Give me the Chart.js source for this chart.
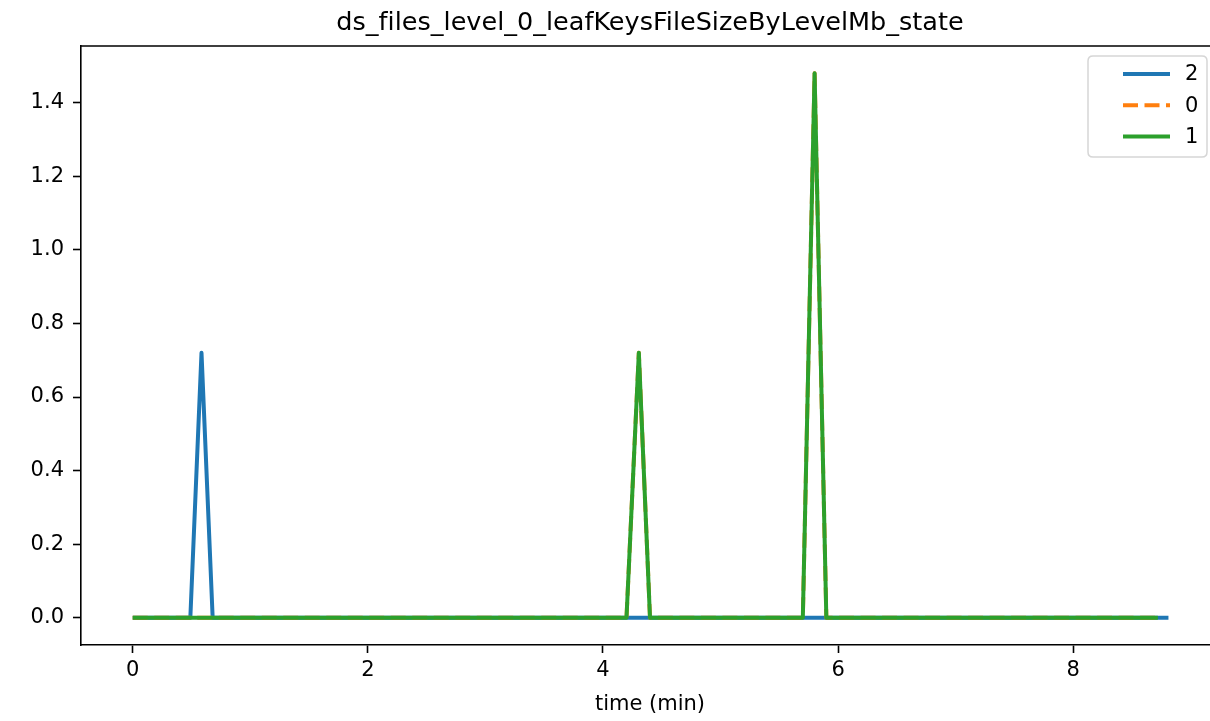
<!DOCTYPE html>
<html>
<head>
<meta charset="utf-8">
<script src="https://cdn.jsdelivr.net/npm/chart.js@4/dist/chart.umd.min.js"></script>
<style>
  html, body { margin: 0; padding: 0; overflow: hidden; background: #fff; }
  #wrap { width: 1230px; height: 721px; }
</style>
</head>
<body>
<div id="wrap"><canvas id="c" width="1230" height="721"></canvas></div>
<script>
// ---- data ----
const titleText = "ds_files_level_0_leafKeysFileSizeByLevelMb_state";
const xAxisLabel = "time (min)";
const seriesLabels = ["2", "0", "1"];
const seriesColors = ["#1f77b4", "#ff7f0e", "#2ca02c"];

const timeS2 = [0, 0.49, 0.585, 0.68, 8.81];
const valS2  = [0, 0, 0.72, 0, 0];

const timeS0 = [0, 4.2, 4.305, 4.4, 5.7, 5.8, 5.9, 8.72];
const valS0  = [0, 0, 0.72, 0, 0, 1.48, 0, 0];

const timeS1 = [0, 4.2, 4.305, 4.4, 5.7, 5.8, 5.9, 8.72];
const valS1  = [0, 0, 0.72, 0, 0, 1.48, 0, 0];

const xTickValues = [0, 2, 4, 6, 8];
const yTickValues = [0.0, 0.2, 0.4, 0.6, 0.8, 1.0, 1.2, 1.4];

// ---- build ----
function pts(xs, ys) { return xs.map((x, i) => ({ x: x, y: ys[i] })); }

const FONT = "'DejaVu Sans', sans-serif";

const framePlugin = {
  id: 'mplFrame',
  afterDraw(chart) {
    const ctx = chart.ctx;
    const a = chart.chartArea;
    ctx.save();
    ctx.strokeStyle = '#000';
    ctx.lineWidth = 1.6;
    ctx.beginPath();
    ctx.moveTo(a.left - 0.8, a.top);
    ctx.lineTo(a.right + 0.8, a.top);
    ctx.moveTo(a.right, a.top);
    ctx.lineTo(a.right, a.bottom);
    ctx.stroke();
    ctx.fillStyle = '#000';
    ctx.font = "25.5px " + FONT;
    try { ctx.letterSpacing = '0.01px'; } catch (e) {}
    ctx.textAlign = 'center';
    ctx.textBaseline = 'alphabetic';
    ctx.fillText(titleText, (a.left + a.right) / 2, 30);
    ctx.restore();
  }
};

const legendPlugin = {
  id: 'mplLegend',
  afterDraw(chart) {
    const ctx = chart.ctx;
    const bx = 1088, by = 56, bw = 119, bh = 101, r = 5;
    ctx.save();
    ctx.beginPath();
    ctx.moveTo(bx + r, by);
    ctx.lineTo(bx + bw - r, by);
    ctx.quadraticCurveTo(bx + bw, by, bx + bw, by + r);
    ctx.lineTo(bx + bw, by + bh - r);
    ctx.quadraticCurveTo(bx + bw, by + bh, bx + bw - r, by + bh);
    ctx.lineTo(bx + r, by + bh);
    ctx.quadraticCurveTo(bx, by + bh, bx, by + bh - r);
    ctx.lineTo(bx, by + r);
    ctx.quadraticCurveTo(bx, by, bx + r, by);
    ctx.closePath();
    ctx.fillStyle = 'rgba(255,255,255,0.8)';
    ctx.fill();
    ctx.strokeStyle = '#d6d6d6';
    ctx.lineWidth = 1.5;
    ctx.stroke();
    chart.data.datasets.forEach((ds, i) => {
      const y = 74 + i * 31.3;
      ctx.beginPath();
      ctx.setLineDash(ds.borderDash || []);
      ctx.strokeStyle = ds.borderColor;
      ctx.lineWidth = ds.borderWidth;
      ctx.lineCap = 'butt';
      ctx.moveTo(1123, y);
      ctx.lineTo(1170, y);
      ctx.stroke();
      ctx.setLineDash([]);
      ctx.fillStyle = '#000';
      ctx.font = "21px " + FONT;
      ctx.textAlign = 'left';
      ctx.textBaseline = 'middle';
      ctx.fillText(ds.label, 1185, y + 1);
    });
    ctx.restore();
  }
};

const datasets = [
  { label: seriesLabels[0], data: pts(timeS2, valS2), borderColor: seriesColors[0], borderWidth: 4, borderDash: [], order: 3 },
  { label: seriesLabels[1], data: pts(timeS0, valS0), borderColor: seriesColors[1], borderWidth: 4, borderDash: [15, 6.5], order: 2 },
  { label: seriesLabels[2], data: pts(timeS1, valS1), borderColor: seriesColors[2], borderWidth: 4, borderDash: [], order: 1 }
].map(d => Object.assign(d, {
  fill: false, pointRadius: 0, pointHoverRadius: 0, tension: 0,
  borderCapStyle: 'butt', borderJoinStyle: 'round', clip: false
}));

new Chart(document.getElementById('c'), {
  type: 'line',
  data: { datasets: datasets },
  plugins: [framePlugin, legendPlugin],
  options: {
    responsive: false,
    animation: false,
    events: [],
    layout: { padding: { left: 0, top: 46, right: 11, bottom: 0 } },
    plugins: { legend: { display: false }, title: { display: false }, tooltip: { enabled: false } },
    scales: {
      x: {
        type: 'linear',
        min: -0.44, max: 9.24,
        afterFit(s) { s.height = 76; },
        afterBuildTicks(s) { s.ticks = xTickValues.map(v => ({ value: v })); },
        ticks: { color: '#000', font: { family: FONT, size: 21 }, padding: 5, maxRotation: 0,
                 callback: v => String(v) },
        grid: { display: true, drawOnChartArea: false, drawTicks: true, tickLength: 8, color: '#000', tickWidth: 1.6 },
        border: { display: true, color: '#000', width: 1.6 },
        title: { display: true, text: xAxisLabel, color: '#000', font: { family: FONT, size: 21 }, padding: { top: 0, bottom: 4 } }
      },
      y: {
        type: 'linear',
        min: -0.074, max: 1.554,
        afterFit(s) { s.width = 81; },
        afterBuildTicks(s) { s.ticks = yTickValues.map(v => ({ value: v })); },
        ticks: { color: '#000', font: { family: FONT, size: 21 }, padding: 9,
                 callback: v => Number(v).toFixed(1) },
        grid: { display: true, drawOnChartArea: false, drawTicks: true, tickLength: 8, color: '#000', tickWidth: 1.6 },
        border: { display: true, color: '#000', width: 1.6 }
      }
    }
  }
});
</script>
</body>
</html>
